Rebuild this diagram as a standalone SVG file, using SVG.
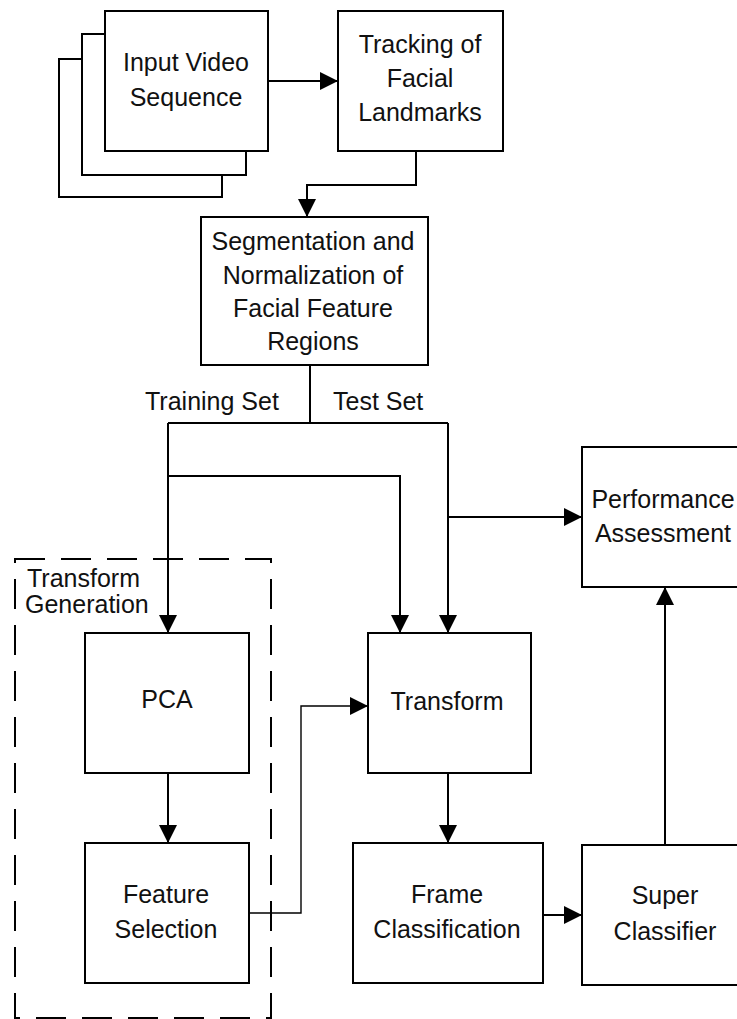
<svg xmlns="http://www.w3.org/2000/svg" width="737" height="1019" viewBox="0 0 737 1019">
<style>
.box{fill:#fff;stroke:#000;stroke-width:2}
.t{font-family:"Liberation Sans",Arial,sans-serif;font-size:25px;fill:#111;text-anchor:middle}
.ts{font-family:"Liberation Sans",Arial,sans-serif;font-size:25px;fill:#111}
.c{fill:none;stroke:#000;stroke-width:2}
.thin{fill:none;stroke:#000;stroke-width:1.4}
</style>
<defs>
<marker id="ah" viewBox="0 0 18 18" refX="18" refY="9" markerWidth="18" markerHeight="18" orient="auto" markerUnits="userSpaceOnUse">
<path d="M0,0 L18,9 L0,18 z" fill="#000"/>
</marker>
</defs>
<rect width="737" height="1019" fill="#fff"/>
<g id="transform-generation">
<rect x="15" y="559" width="256" height="459" fill="none" stroke="#000" stroke-width="2" stroke-dasharray="30 16"/>
<text class="ts" x="27" y="587">Transform</text>
<text class="ts" x="25" y="613">Generation</text>
</g>
<g id="input-video">
<rect class="box" x="59" y="59" width="163" height="138"/>
<rect class="box" x="82" y="34" width="164" height="141"/>
<rect class="box" x="105" y="11" width="163" height="140"/>
<text class="t" x="186" y="71">Input Video</text>
<text class="t" x="186" y="106">Sequence</text>
</g>
<g id="tracking">
<rect class="box" x="338" y="11" width="165" height="140"/>
<text class="t" x="420" y="53">Tracking of</text>
<text class="t" x="420" y="87">Facial</text>
<text class="t" x="420" y="121">Landmarks</text>
</g>
<g id="segmentation">
<rect class="box" x="201" y="217" width="227" height="148"/>
<text class="t" x="313" y="250">Segmentation and</text>
<text class="t" x="313" y="284">Normalization of</text>
<text class="t" x="313" y="317">Facial Feature</text>
<text class="t" x="313" y="350">Regions</text>
</g>
<g id="labels">
<text class="ts" x="145" y="410">Training Set</text>
<text class="ts" x="333" y="410">Test Set</text>
</g>
<g id="performance">
<rect class="box" x="582" y="447" width="166" height="140"/>
<text class="t" x="663" y="508">Performance</text>
<text class="t" x="663" y="542">Assessment</text>
</g>
<g id="pca">
<rect class="box" x="85" y="633" width="164" height="140"/>
<text class="t" x="167" y="708">PCA</text>
</g>
<g id="feature-selection">
<rect class="box" x="85" y="843" width="164" height="140"/>
<text class="t" x="166" y="903">Feature</text>
<text class="t" x="166" y="938">Selection</text>
</g>
<g id="transform">
<rect class="box" x="368" y="633" width="163" height="140"/>
<text class="t" x="447" y="710">Transform</text>
</g>
<g id="frame-classification">
<rect class="box" x="353" y="843" width="190" height="140"/>
<text class="t" x="447" y="903">Frame</text>
<text class="t" x="447" y="938">Classification</text>
</g>
<g id="super-classifier">
<rect class="box" x="582" y="845" width="166" height="140"/>
<text class="t" x="665" y="904">Super</text>
<text class="t" x="665" y="940">Classifier</text>
</g>
<g id="connectors">
<path class="c" d="M268,81 H338" marker-end="url(#ah)"/>
<path class="c" d="M416,151 V185 H307 V217" marker-end="url(#ah)"/>
<path class="c" d="M310,365 V423"/>
<path class="c" d="M168,423 H448"/>
<path class="c" d="M168,423 V633" marker-end="url(#ah)"/>
<path class="c" d="M168,476 H400 V633" marker-end="url(#ah)"/>
<path class="c" d="M448,423 V633" marker-end="url(#ah)"/>
<path class="c" d="M448,517 H582" marker-end="url(#ah)"/>
<path class="c" d="M168,773 V843" marker-end="url(#ah)"/>
<path class="thin" d="M249,913 H301 V706 H368" marker-end="url(#ah)"/>
<path class="c" d="M448,773 V843" marker-end="url(#ah)"/>
<path class="c" d="M543,915 H582" marker-end="url(#ah)"/>
<path class="c" d="M665,845 V587" marker-end="url(#ah)"/>
</g>
</svg>
